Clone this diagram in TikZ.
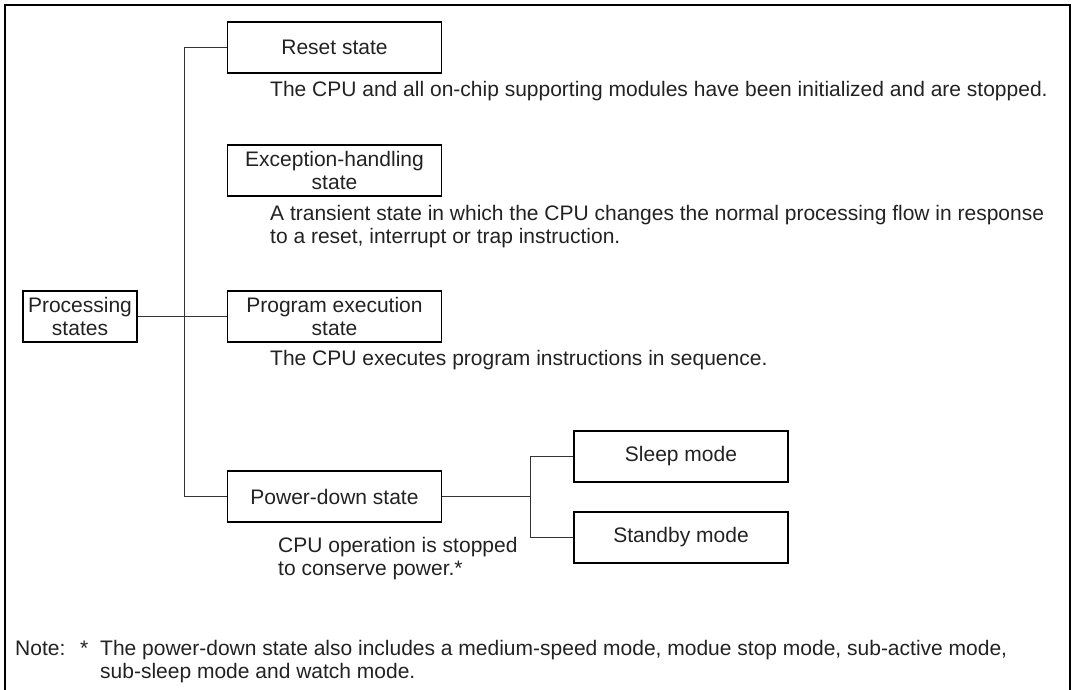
\documentclass[tikz,border=0pt]{standalone}
\usepackage{fontspec}
\setmainfont{Liberation Sans}
\definecolor{ink}{HTML}{222222}
\begin{document}
\begin{tikzpicture}[x=1pt,y=-1pt,
  every node/.style={font=\fontsize{21}{23}\selectfont,text=ink},
  box/.style={draw=black,line width=1.5pt,rectangle,minimum width=214pt,minimum height=51pt,inner sep=0pt,align=center},
  desc/.style={anchor=base west,inner sep=0pt,align=left},
  conn/.style={draw=black!80,line width=0.9pt},
  frame/.style={draw=black,line width=2.2pt}]
\useasboundingbox (0,0) rectangle (1076,690);
\draw[frame] (5,700) -- (5,5) -- (1070,5) -- (1070,700);

\node[box] (reset) at (334.5,47.5) {Reset state};
\node[box] (exc) at (334.5,170.5) {Exception-handling\\state};
\node[box,minimum width=114pt] (proc) at (80,316.5) {Processing\\states};
\node[box] (prog) at (334.5,316.5) {Program execution\\state};
\node[box] (pd) at (334.5,496.5) {Power-down state};
\node[box] (sleep) at (681,456.5) {Sleep mode};
\node[box] (stby) at (681,537.5) {Standby mode};

% base anchor of a multi-line node is the baseline of its last line
\node[desc] (dreset) at (270,97) {The CPU and all on-chip supporting modules have been initialized and are stopped.};
\node[desc] (dexc) at (270,243) {A transient state in which the CPU changes the normal processing flow in response\\to a reset, interrupt or trap instruction.};
\node[desc] (dprog) at (270,365) {The CPU executes program instructions in sequence.};
\node[desc] (dpd) at (278,575) {CPU operation is stopped\\to conserve power.*};

\node[desc] (note) at (15,655) {Note:};
\node[desc] (star) at (80,655) {*};
\node[desc] (notebody) at (100,678) {The power-down state also includes a medium-speed mode, modue stop mode, sub-active mode,\\sub-sleep mode and watch mode.};

\coordinate (trunk) at (184,0);
\coordinate (subtrunk) at (530,0);
\draw[conn] (reset.west) -- (reset.west -| trunk) |- (pd.west);
\draw[conn] (proc.east) -- (prog.west);
\draw[conn] (pd.east) -- (pd.east -| subtrunk);
\draw[conn] (sleep.west) -- (sleep.west -| subtrunk) |- (stby.west);
\end{tikzpicture}
\end{document}
